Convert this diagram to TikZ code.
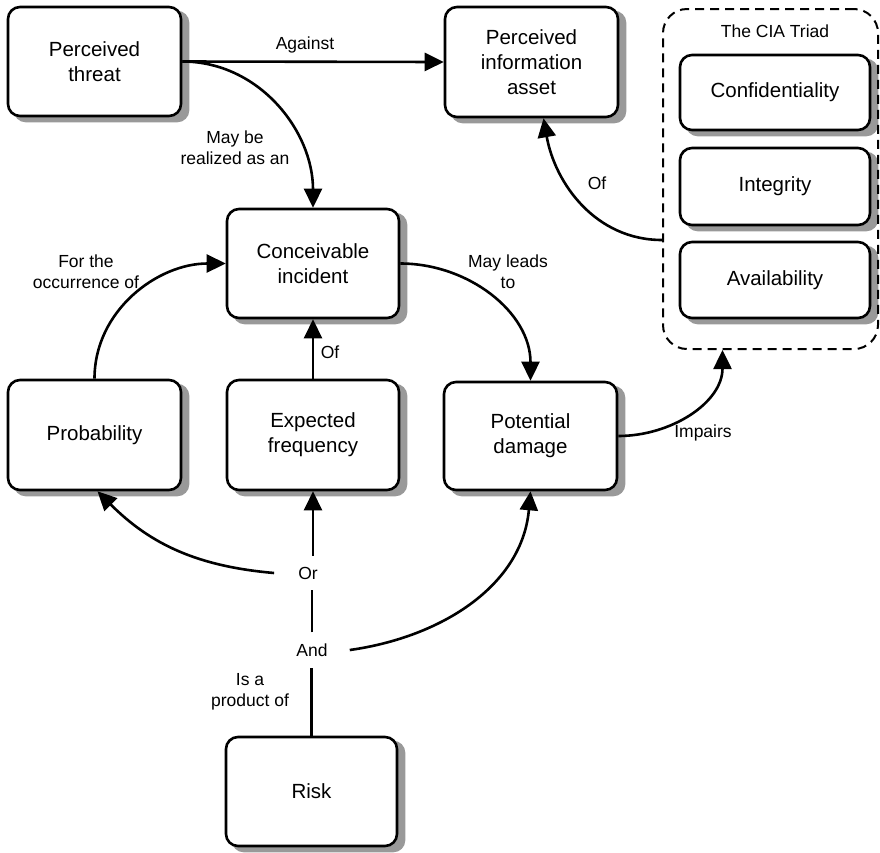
\documentclass[tikz,border=0pt]{standalone}
\usepackage{fontspec}
\setmainfont{Liberation Sans}
\usetikzlibrary{arrows.meta,calc,backgrounds}
\begin{document}
\begin{tikzpicture}[x=1pt,y=-1pt,
  box/.style={draw, line width=2.6pt, rounded corners=12pt, fill=white, align=center,
    font=\fontsize{20.5}{25}\selectfont, inner sep=0pt},
  shadowfill/.style={fill=black!40, rounded corners=12pt},
  lbl/.style={align=center, font=\fontsize{17.5}{21}\selectfont, inner sep=0pt},
  conn/.style={line width=2.6pt},
  arr/.style={conn, -{Triangle[length=19pt,width=18pt]}}]
\useasboundingbox (0,0) rectangle (880,852);

% CIA triad container
\node[draw, line width=2pt, dash pattern=on 9pt off 6pt, rounded corners=24pt,
      minimum width=215pt, minimum height=340pt] (cia) at (770.5,179) {};
\node[lbl] (ciat) at (775,31) {The CIA Triad};
\node[box, minimum width=190pt, minimum height=75pt] (conf) at (775,92.5) {Confidentiality};
\node[box, minimum width=190pt, minimum height=77pt] (integ) at (775,186.5) {Integrity};
\node[box, minimum width=190pt, minimum height=76pt] (avail) at (775,280) {Availability};

% main boxes
\node[box, minimum width=173pt, minimum height=109pt] (threat) at (94.5,61.5) {Perceived\\threat};
\node[box, minimum width=173pt, minimum height=110pt] (asset) at (531.5,62) {Perceived\\information\\asset};
\node[box, minimum width=172pt, minimum height=109pt] (incident) at (313,263.5) {Conceivable\\incident};
\node[box, minimum width=173pt, minimum height=110pt] (prob) at (94.5,435) {Probability};
\node[box, minimum width=172pt, minimum height=110pt] (freq) at (313,435) {Expected\\frequency};
\node[box, minimum width=173pt, minimum height=108pt] (damage) at (530.5,436) {Potential\\damage};
\node[box, minimum width=171pt, minimum height=109pt] (risk) at (311.5,791.5) {Risk};

% drop shadows behind the boxes
\begin{scope}[on background layer]
\foreach \b in {conf,integ,avail,threat,asset,incident,prob,freq,damage,risk}{
  \fill[shadowfill] ($(\b.south west)+(7,5)$) rectangle ($(\b.north east)+(7,5)$);
}
\end{scope}

% junction labels
\node[lbl, inner xsep=24pt, inner ysep=11pt] (or) at (308,573) {Or};
\node[lbl, inner xsep=22pt, inner ysep=11pt] (and) at (312,650) {And};

\coordinate (ciaOf) at ($(cia.west)+(0,61)$);
\coordinate (ciaIn) at ($(cia.south)+(-48,0)$);

% connectors
\draw[arr] (threat.east) -- (asset.west);
\draw[arr] (threat.east) to[out=0,in=90] (incident.north);
\draw[arr] (prob.north) to[out=90,in=180] (incident.west);
\draw[arr] (incident.east) to[out=0,in=90] (damage.north);
\draw[arr] (freq.north) -- (incident.south);
\draw[arr] (damage.east) to[out=0,in=-90] (ciaIn);
\draw[arr] (ciaOf) to[out=180,in=-80] ([xshift=12pt]asset.south);
\draw[arr] (or.west) to[out=175,in=-45] ([xshift=3pt]prob.south);
\draw[arr] (or.north -| freq.south) -- (freq.south);
\draw[arr] (and.east) to[out=8,in=-95] (damage.south);
\draw[conn] (and.north) -- (or.south -| and.north);
\draw[conn] (risk.north) -- (and.south -| risk.north);

% edge labels
\node[lbl] (lAgainst) at (305,45) {Against};
\node[lbl] (lRealized) at (235,148) {May be\\realized as an};
\node[lbl] (lOccur) at (86,272) {For the\\occurrence of};
\node[lbl] (lLeads) at (508,272) {May leads\\to};
\node[lbl] (lOfFreq) at (330,352) {Of};
\node[lbl] (lOfAsset) at (597,183) {Of};
\node[lbl] (lImpairs) at (703,433) {Impairs};
\node[lbl] (lProduct) at (250,692) {Is a\\product of};
\end{tikzpicture}
\end{document}
